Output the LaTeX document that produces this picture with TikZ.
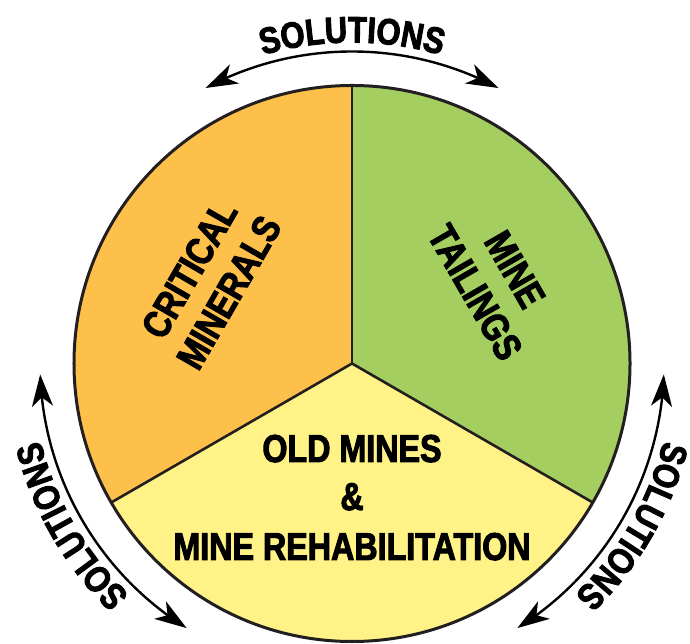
\documentclass[tikz,border=0pt]{standalone}
\usepackage{fontspec}
\usetikzlibrary{arrows.meta,bending,decorations.text,calc}
\newfontfamily\solfont[FakeStretch=0.84,FakeBold=2.5]{Liberation Sans Bold}
\newfontfamily\secfont[FakeStretch=0.83,FakeBold=2.5]{Liberation Sans Bold}
\definecolor{orangeF}{HTML}{FDC04A}
\definecolor{greenF}{HTML}{A4CE5F}
\definecolor{yellowF}{HTML}{FFF387}
\definecolor{ink}{HTML}{231F20}
\tikzset{solhead/.tip={Stealth[length=32bp,width=21bp,inset=9bp]}}
\begin{document}
\begin{tikzpicture}[x=1bp,y=1bp,
  divider/.style={draw=ink,line width=2.6bp,line cap=round},
  rim/.style={draw=ink,line width=3bp},
  sectext/.style={font=\secfont\fontsize{39}{46}\selectfont,align=center,inner sep=0pt,text=black},
  solarrow/.style={draw=black,line width=2.4bp,solhead-solhead},
  soltext/.style={decorate,decoration={text along path,text align=center,
     text={|\solfont\fontsize{37}{37}\selectfont|SOLUTIONS}}}]
\useasboundingbox (0,0) rectangle (690,644);
\coordinate (c) at (352,280.5);
% sectors
\fill[orangeF] (c) -- ($(c)+(90:278bp)$) arc[start angle=90,end angle=210,radius=278bp] -- cycle;
\fill[yellowF] (c) -- ($(c)+(210:278bp)$) arc[start angle=210,end angle=330,radius=278bp] -- cycle;
\fill[greenF] (c) -- ($(c)+(-30:278bp)$) arc[start angle=-30,end angle=90,radius=278bp] -- cycle;
\coordinate (top) at ($(c)+(90:278bp)$);
\coordinate (ll) at ($(c)+(210:278bp)$);
\coordinate (lr) at ($(c)+(330:278bp)$);
\draw[divider] (c) -- (top);
\draw[divider] (c) -- (ll);
\draw[divider] (c) -- (lr);
\draw[rim] (c) circle[radius=278bp];
% sector labels
\node[sectext,rotate=60] (crit) at ($(c)+(150:165bp)$) {CRITICAL\\MINERALS};
\node[sectext,rotate=-60] (tail) at ($(c)+(30:165bp)$) {MINE\\TAILINGS};
\node[sectext,anchor=base] (old) at (352,182) {OLD MINES};
\node[sectext,anchor=base] (amp) at (352,134) {\&};
\node[sectext,anchor=base] (rehab) at (352,84) {MINE REHABILITATION};
% solutions arrows
\coordinate (a1s) at ($(c)+(118:312bp)$);
\coordinate (a2s) at ($(c)+(238:312bp)$);
\coordinate (a3s) at ($(c)+(358:312bp)$);
\draw[solarrow] (a1s) arc[start angle=118,end angle=62,radius=312bp];
\draw[solarrow] (a2s) arc[start angle=238,end angle=182,radius=312bp];
\draw[solarrow] (a3s) arc[start angle=358,end angle=302,radius=312bp];
% solutions texts
\path[soltext] ($(c)+(125:321bp)$) arc[start angle=125,end angle=55,radius=321bp];
\path[soltext] ($(c)+(245:321bp)$) arc[start angle=245,end angle=175,radius=321bp];
\path[soltext] ($(c)+(5:321bp)$) arc[start angle=5,end angle=-65,radius=321bp];
\end{tikzpicture}
\end{document}
